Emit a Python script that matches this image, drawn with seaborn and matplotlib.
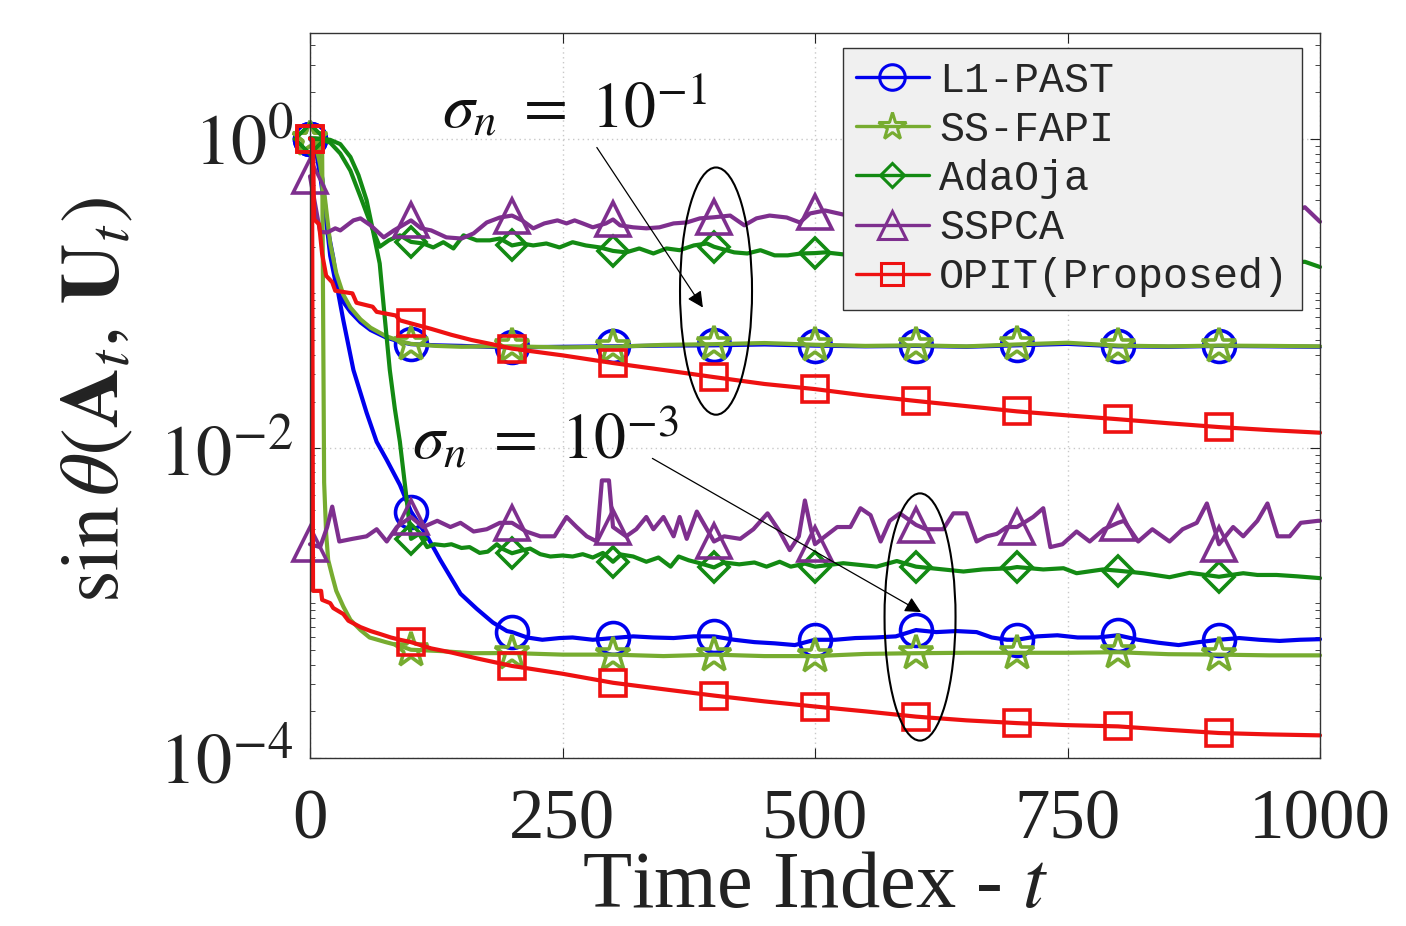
import numpy as np
import matplotlib
matplotlib.use("Agg")
import matplotlib.pyplot as plt
import seaborn as sns
from matplotlib.lines import Line2D
from matplotlib.patches import Ellipse
from matplotlib.ticker import FixedLocator, FixedFormatter, NullFormatter

# ---------------------------------------------------------------------------
# Subspace tracking error sin(theta) vs. time, two noise levels
# ---------------------------------------------------------------------------
marker_t = [0, 100, 200, 300, 400, 500, 600, 700, 800, 900]

# ---- sigma_n = 1e-1 ----
t_l1_hi = [0, 5, 10, 15, 20, 26, 33, 40, 50, 60, 75, 90, 100, 125, 150, 175, 200,
           250, 300, 350, 400, 450, 500, 550, 600, 650, 700, 750, 800, 850, 900, 950, 1000]
v_l1_hi = [1.0, 0.9, 0.58, 0.34, 0.175, 0.112, 0.088, 0.076, 0.065, 0.058, 0.052, 0.0485, 0.047,
           0.0462, 0.0458, 0.0452, 0.0448,
           0.0452, 0.0455, 0.046, 0.0462, 0.0468, 0.046, 0.0455, 0.0458, 0.0452, 0.0462, 0.0472,
           0.0455, 0.0452, 0.0458, 0.0455, 0.0452]

t_ss_hi = t_l1_hi
v_ss_hi = [1.0, 0.95, 0.68, 0.4, 0.21, 0.135, 0.098, 0.081, 0.068, 0.06, 0.053, 0.049, 0.0472,
           0.0458, 0.0452, 0.0455, 0.0455,
           0.0448, 0.0452, 0.0465, 0.047, 0.0478, 0.0466, 0.0458, 0.0462, 0.0455, 0.0468, 0.048,
           0.046, 0.0455, 0.046, 0.0458, 0.0455]

t_ada_hi = [0, 10, 20, 30, 40, 50, 56, 62, 69, 78, 89, 100, 112, 122, 132, 142, 152, 165, 178, 188,
            200, 210, 221, 234, 247, 260, 273, 287, 300, 313, 326, 340, 353, 366, 380, 393, 400, 406,
            420, 433, 446, 460, 473, 486, 500, 510, 530, 560, 600, 640, 680, 700, 760, 800, 840, 880,
            900, 920, 960, 985, 1000]
v_ada_hi = [1.0, 0.99, 0.94, 0.8, 0.62, 0.42, 0.33, 0.26, 0.2, 0.22, 0.237, 0.215, 0.21, 0.198,
            0.214, 0.195, 0.237, 0.22, 0.22, 0.226, 0.204, 0.21, 0.204, 0.21, 0.198, 0.214, 0.204,
            0.198, 0.188, 0.184, 0.195, 0.181, 0.195, 0.19, 0.204, 0.21, 0.2, 0.195, 0.184, 0.181,
            0.19, 0.176, 0.176, 0.181, 0.182, 0.184, 0.178, 0.175, 0.172, 0.17, 0.168, 0.166, 0.165,
            0.163, 0.161, 0.16, 0.158, 0.157, 0.156, 0.16, 0.148]

t_sspca_hi = [0, 10, 17, 25, 30, 43, 50, 60, 73, 83, 100, 110, 120, 135, 150, 162, 175, 188, 200,
              210, 221, 232, 245, 254, 262, 270, 280, 293, 300, 307, 320, 333, 346, 360, 373, 386,
              400, 416, 430, 442, 455, 472, 485, 495, 500, 510, 540, 580, 600, 660, 700, 740, 780,
              800, 840, 880, 900, 940, 970, 985, 1000]
v_sspca_hi = [0.57, 0.25, 0.247, 0.263, 0.255, 0.296, 0.305, 0.275, 0.23, 0.255, 0.296, 0.263,
              0.255, 0.23, 0.226, 0.244, 0.287, 0.309, 0.318, 0.296, 0.263, 0.283, 0.296, 0.283,
              0.296, 0.283, 0.267, 0.283, 0.3, 0.275, 0.267, 0.263, 0.267, 0.283, 0.287, 0.305,
              0.31, 0.318, 0.275, 0.305, 0.318, 0.309, 0.287, 0.328, 0.333, 0.343, 0.31, 0.3, 0.32,
              0.29, 0.31, 0.3, 0.32, 0.31, 0.3, 0.32, 0.31, 0.3, 0.33, 0.36, 0.29]

t_opit_hi = [0, 3, 4, 9, 12, 16, 22, 25, 42, 46, 62, 66, 85, 89, 100, 120, 140, 160, 180, 200,
             250, 300, 350, 400, 450, 500, 550, 600, 650, 700, 750, 800, 850, 900, 950, 1000]
v_opit_hi = [1.0, 0.98, 0.3, 0.28, 0.18, 0.13, 0.118, 0.104, 0.1, 0.087, 0.082, 0.076, 0.072,
             0.067, 0.064, 0.059, 0.054, 0.05, 0.047, 0.044, 0.0398, 0.0355, 0.032, 0.0288, 0.026,
             0.0241, 0.0219, 0.0202, 0.0187, 0.0173, 0.0163, 0.0154, 0.0145, 0.0137, 0.0131, 0.0126]

# ---- sigma_n = 1e-3 ----
t_l1_lo = [0, 5, 10, 13, 17, 23, 28, 33, 43, 56, 66, 76, 89, 100, 116, 129, 149, 165, 181, 195,
           200, 215, 230, 247, 260, 280, 300, 320, 340, 360, 380, 400, 420, 440, 460, 480, 500,
           520, 540, 560, 580, 600, 620, 640, 660, 675, 690, 700, 720, 740, 760, 780, 800, 820,
           840, 860, 880, 900, 920, 940, 960, 980, 1000]
v_l1_lo = [1.0, 0.95, 0.7, 0.5, 0.27, 0.17, 0.1, 0.067, 0.032, 0.017, 0.011, 0.0084, 0.0058,
           0.0039, 0.0027, 0.0019, 0.00115, 0.00092, 0.00075, 0.00066, 0.00065, 0.0006, 0.00058,
           0.000595, 0.0006, 0.00058, 0.000595, 0.00061, 0.0006, 0.000595, 0.00061, 0.00061,
           0.00058, 0.00056, 0.00055, 0.000536, 0.00058, 0.00058, 0.000595, 0.0006, 0.00061,
           0.00067, 0.00065, 0.00066, 0.00065, 0.0006, 0.00058, 0.00058, 0.00061, 0.00062, 0.0006,
           0.0006, 0.00062, 0.00058, 0.000555, 0.000536, 0.00056, 0.00058, 0.000595, 0.00058,
           0.00057, 0.00058, 0.000585]

t_ss_lo = [0, 5, 10, 12, 14, 16, 18, 22, 26, 33, 40, 50, 59, 75, 89, 100, 130, 160, 200, 250,
           300, 350, 400, 450, 500, 550, 600, 650, 700, 750, 800, 850, 900, 950, 1000]
v_ss_lo = [1.0, 1.0, 0.98, 0.9, 0.006, 0.0028, 0.0019, 0.0015, 0.0012, 0.00095, 0.00078,
           0.00067, 0.0006, 0.00056, 0.00053, 0.0005, 0.00049, 0.000475, 0.000476, 0.000465,
           0.000465, 0.000455, 0.000465, 0.000455, 0.000455, 0.00047, 0.000475, 0.000478,
           0.000478, 0.000478, 0.000482, 0.000468, 0.000465, 0.00046, 0.00046]

t_ada_lo = [0, 10, 20, 30, 40, 48, 56, 62, 69, 74, 79, 84, 89, 96, 100, 108, 116, 123, 133, 140,
            150, 158, 168, 176, 185, 190, 200, 210, 218, 228, 238, 250, 260, 270, 280, 290, 300,
            308, 320, 333, 345, 357, 365, 375, 386, 400, 410, 425, 440, 452, 465, 476, 490, 500,
            528, 561, 581, 600, 627, 647, 666, 693, 700, 726, 746, 759, 785, 800, 825, 851, 871,
            900, 924, 938, 957, 977, 1000]
v_ada_lo = [1.0, 1.0, 0.98, 0.92, 0.76, 0.58, 0.4, 0.26, 0.156, 0.07, 0.032, 0.018, 0.011, 0.0045,
            0.0026, 0.0028, 0.0023, 0.0024, 0.00236, 0.0024, 0.00227, 0.0023, 0.00211, 0.00215,
            0.0024, 0.00225, 0.0021, 0.00219, 0.00225, 0.00207, 0.002, 0.00203, 0.002, 0.00207,
            0.00197, 0.00211, 0.00185, 0.00206, 0.002, 0.00185, 0.00197, 0.00172, 0.002, 0.00189,
            0.00181, 0.0017, 0.00183, 0.00178, 0.00183, 0.00172, 0.00185, 0.00172, 0.0018,
            0.00172, 0.00181, 0.00172, 0.00187, 0.00172, 0.00165, 0.0016, 0.00165, 0.00168,
            0.00171, 0.00165, 0.00168, 0.00156, 0.00165, 0.00162, 0.00156, 0.00147, 0.00157,
            0.00148, 0.00156, 0.00152, 0.00152, 0.00149, 0.00145]

t_sspca_lo = [0, 10, 17, 22, 29, 42, 56, 66, 76, 86, 100, 112, 126, 139, 149, 162, 175, 188, 200,
              214, 228, 242, 254, 264, 274, 284, 289, 296, 300, 313, 323, 333, 340, 350, 360, 366,
              373, 383, 393, 400, 410, 426, 439, 453, 465, 475, 484, 490, 496, 500, 510, 522, 535,
              545, 555, 565, 574, 584, 600, 610, 627, 637, 650, 660, 670, 680, 690, 700, 716, 726,
              733, 745, 759, 772, 786, 800, 806, 820, 834, 851, 864, 878, 888, 900, 914, 924, 938,
              948, 958, 970, 981, 998, 1000]
v_sspca_lo = [0.0024, 0.0023, 0.0031, 0.0042, 0.0025, 0.0026, 0.0027, 0.003, 0.0025, 0.0031,
              0.0036, 0.0031, 0.0034, 0.0031, 0.0033, 0.0029, 0.003, 0.0033, 0.0033, 0.0029,
              0.0027, 0.0027, 0.0036, 0.0031, 0.0027, 0.0025, 0.0062, 0.0062, 0.0031, 0.0027,
              0.003, 0.0036, 0.003, 0.0036, 0.0027, 0.0036, 0.0026, 0.0039, 0.003, 0.0025,
              0.0027, 0.0026, 0.003, 0.0038, 0.0029, 0.0022, 0.0027, 0.0046, 0.003, 0.0024,
              0.0027, 0.0031, 0.0031, 0.0041, 0.0037, 0.0025, 0.0034, 0.0038, 0.0032, 0.003,
              0.003, 0.0038, 0.0038, 0.0025, 0.0027, 0.0028, 0.0031, 0.0031, 0.0036, 0.0041,
              0.0023, 0.0024, 0.0029, 0.0025, 0.003, 0.0033, 0.0034, 0.0025, 0.003, 0.0025,
              0.003, 0.0033, 0.0044, 0.0024, 0.0031, 0.0027, 0.0034, 0.0044, 0.0027, 0.0027,
              0.0033, 0.0034, 0.0034]

t_opit_lo = [0, 2, 3, 11, 12, 20, 23, 33, 38, 50, 60, 70, 80, 89, 100, 120, 140, 165, 200, 250,
             300, 350, 400, 450, 500, 550, 600, 650, 700, 750, 800, 850, 900, 950, 1000]
v_opit_lo = [1.0, 0.98, 0.0012, 0.0012, 0.00105, 0.001, 0.00093, 0.00085, 0.00077, 0.0007,
             0.00066, 0.00063, 0.0006, 0.00058, 0.00056, 0.00051, 0.00048, 0.00044, 0.000393,
             0.00035, 0.000306, 0.000278, 0.000253, 0.000232, 0.000215, 0.0002, 0.000185,
             0.000175, 0.000168, 0.000163, 0.00016, 0.000152, 0.000145, 0.000142, 0.00014]

methods = ["L1-PAST", "SS-FAPI", "AdaOja", "SSPCA", "OPIT(Proposed)"]
colors = ["#0000ee", "#77ac30", "#138a13", "#7e2f8e", "#ee1111"]
markers = ["o", "*", "D", "^", "s"]
msizes = [23, 26, 15, 25, 19]
series = {
    "L1-PAST": [(t_l1_hi, v_l1_hi), (t_l1_lo, v_l1_lo)],
    "SS-FAPI": [(t_ss_hi, v_ss_hi), (t_ss_lo, v_ss_lo)],
    "AdaOja": [(t_ada_hi, v_ada_hi), (t_ada_lo, v_ada_lo)],
    "SSPCA": [(t_sspca_hi, v_sspca_hi), (t_sspca_lo, v_sspca_lo)],
    "OPIT(Proposed)": [(t_opit_hi, v_opit_hi), (t_opit_lo, v_opit_lo)],
}

# ---------------------------------------------------------------------------
sns.set_theme(style="white")
plt.rcParams["font.family"] = ["Liberation Serif", "DejaVu Serif"]
plt.rcParams["mathtext.fontset"] = "stix"

fig = plt.figure(figsize=(14.06, 9.26), dpi=100)
fig.patch.set_facecolor("white")
ax = fig.add_axes([310 / 1406, 1 - 758 / 926, 1010 / 1406, 725 / 926])

for name, col, mk, ms in zip(methods, colors, markers, msizes):
    for t, v in series[name]:
        idx = [i for i, tt in enumerate(t) if tt in marker_t]
        sns.lineplot(x=t, y=v, ax=ax, estimator=None, sort=False, color=col,
                     linewidth=3.0, marker=mk, markersize=ms, markevery=idx,
                     markerfacecolor="none", markeredgecolor=col,
                     markeredgewidth=2.6, clip_on=False, legend=False)

ax.set_yscale("log")
ax.set_xlim(0, 1000)
ax.set_ylim(1e-4, 4.8)

ax.set_xticks([0, 250, 500, 750, 1000])
ax.set_xticklabels(["0", "250", "500", "750", "1000"])
ax.yaxis.set_major_locator(FixedLocator([1e-4, 1e-2, 1e0]))
ax.yaxis.set_major_formatter(FixedFormatter([r"$10^{-4}$", r"$10^{-2}$", r"$10^{0}$"]))
minor = [m * 10.0 ** k for k in range(-4, 1) for m in range(1, 10)
         if not (m == 1 and k in (-4, -2, 0))]
ax.yaxis.set_minor_locator(FixedLocator(minor))
ax.yaxis.set_minor_formatter(NullFormatter())

ax.tick_params(axis="x", which="major", direction="in", length=7, width=0.8,
               top=True, bottom=True, labelsize=51, pad=22, colors="#222222")
ax.tick_params(axis="y", which="major", direction="in", length=7, width=0.8,
               left=True, right=True, labelsize=52, pad=12, colors="#222222")
ax.tick_params(axis="y", which="minor", direction="in", length=3.5, width=0.7,
               left=True, right=True, colors="#444444")
for lab in ax.get_xticklabels() + ax.get_yticklabels():
    lab.set_color("#222222")

ax.grid(True, which="major", linestyle=(0, (1, 2.5)), color="#c8c8c8", linewidth=1.0)
ax.set_axisbelow(True)
for sp in ax.spines.values():
    sp.set_color("#333333")
    sp.set_linewidth(1.0)

ax.set_xlabel(r"Time Index - $t$", fontsize=58, color="#222222")
ax.xaxis.set_label_coords(0.5, -0.128)
ax.set_ylabel(r"$\sin\theta(\mathbf{A}_t,\, \mathbf{U}_t)$", fontsize=60, color="#222222")
ax.yaxis.set_label_coords(-0.172, 0.494)

# ---- annotations ----
ax.text(262, 1.58, r"$\sigma_n\ =\ 10^{-1}$", fontsize=46, ha="center", va="center",
        color="#111111")
ax.annotate("", xy=(389, 0.081), xytext=(284, 0.875),
            arrowprops=dict(arrowstyle="-|>", color="black", lw=0.9,
                            mutation_scale=24, shrinkA=0, shrinkB=0))
ax.text(233, 0.0113, r"$\sigma_n\ =\ 10^{-3}$", fontsize=46, ha="center", va="center",
        color="#111111")
ax.annotate("", xy=(605, 0.000875), xytext=(339, 0.0086),
            arrowprops=dict(arrowstyle="-|>", color="black", lw=0.9,
                            mutation_scale=24, shrinkA=0, shrinkB=0))
ax.add_patch(Ellipse((0.402, 0.644), 0.0713, 0.341, transform=ax.transAxes,
                     fill=False, edgecolor="black", linewidth=1.5, zorder=6))
ax.add_patch(Ellipse((0.604, 0.1945), 0.0703, 0.341, transform=ax.transAxes,
                     fill=False, edgecolor="black", linewidth=1.5, zorder=6))

# ---- legend ----
handles = [Line2D([], [], color=c, marker=m, markersize=s * 0.8, markerfacecolor="none",
                  markeredgecolor=c, markeredgewidth=2.2, linewidth=2.4)
           for c, m, s in zip(colors, markers, msizes)]
leg = ax.legend(handles, methods, loc="upper right", bbox_to_anchor=(0.982, 0.979),
                borderaxespad=0, fancybox=False, framealpha=1, facecolor="#f0f0f0",
                edgecolor="#333333", handlelength=1.75, handletextpad=0.25,
                labelspacing=0.22, borderpad=0.3, prop={"family": "Liberation Mono", "size": 30})
leg.get_frame().set_linewidth(1.0)
leg.set_zorder(10)

fig.savefig("out.png", dpi=100, facecolor="white")
